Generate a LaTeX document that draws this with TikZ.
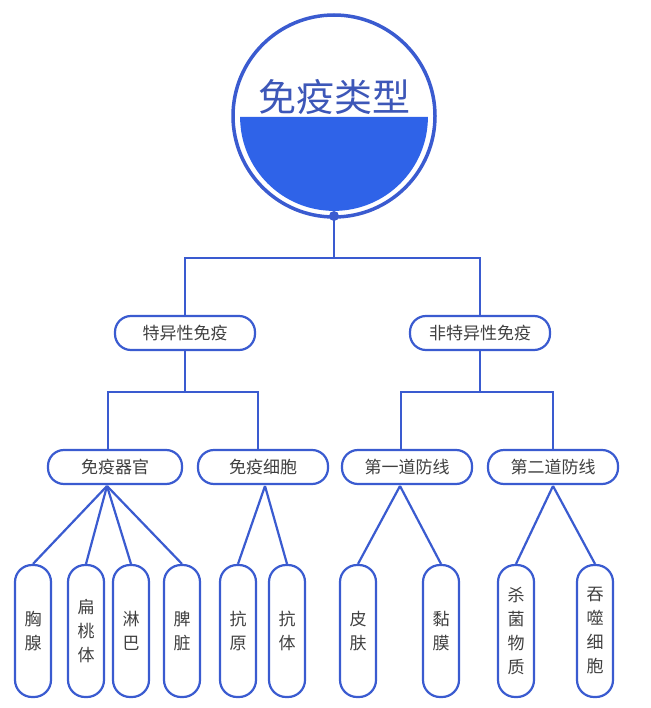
\documentclass[tikz,border=0pt]{standalone}
\usepackage{fontspec}
\setmainfont{Noto Sans CJK SC}
\definecolor{lineblue}{HTML}{3A5BD0}
\definecolor{fillblue}{HTML}{2F63E8}
\definecolor{textblue}{HTML}{3D57B8}
\tikzset{
  pill/.style={draw=lineblue, line width=2.2pt, rounded corners=16pt, minimum height=34pt, font=\fontsize{17}{17}\selectfont, text=black!75},
  leaf/.style={draw=lineblue, line width=2.2pt, rounded corners=17pt, minimum width=36pt, minimum height=132pt, align=center, font=\fontsize{17}{24}\selectfont, text=black!75},
  link/.style={draw=lineblue, line width=2.2pt}
}
\begin{document}
\begin{tikzpicture}[x=1pt, y=-1pt]
  \useasboundingbox (0,0) rectangle (650,708);
  \def\ya{333}
  \def\yb{467}
  \def\yc{631}

  % root circle
  \fill[fillblue] (334,117) ++(-93.9,0) arc[start angle=180, end angle=0, radius=93.9] -- cycle;
  \draw[lineblue, line width=3.5pt] (334,116) circle[radius=101];
  \node[text=textblue, font=\fontsize{38}{38}\selectfont] (root) at (334,97) {免疫类型};
  \fill[lineblue] (334,216) circle[radius=5];
  \coordinate (dot) at (334,216);

  \node[pill, minimum width=140pt] (TY) at (185,\ya) {特异性免疫};
  \node[pill, minimum width=140pt] (FTY) at (480,\ya) {非特异性免疫};

  \node[pill, minimum width=134pt] (QG) at (115,\yb) {免疫器官};
  \node[pill, minimum width=130pt] (XB) at (263,\yb) {免疫细胞};
  \node[pill, minimum width=130pt] (D1) at (407,\yb) {第一道防线};
  \node[pill, minimum width=130pt] (D2) at (553,\yb) {第二道防线};

  \node[leaf] (L1) at (33,\yc) {胸\\腺};
  \node[leaf] (L2) at (86,\yc) {扁\\桃\\体};
  \node[leaf] (L3) at (131,\yc) {淋\\巴};
  \node[leaf] (L4) at (182,\yc) {脾\\脏};
  \node[leaf] (L5) at (238,\yc) {抗\\原};
  \node[leaf] (L6) at (287,\yc) {抗\\体};
  \node[leaf] (L7) at (358,\yc) {皮\\肤};
  \node[leaf] (L8) at (441,\yc) {黏\\膜};
  \node[leaf] (L9) at (516,\yc) {杀\\菌\\物\\质};
  \node[leaf] (L10) at (595,\yc) {吞\\噬\\细\\胞};

  \draw[link] (dot) -- (334,258) -| (TY.north);
  \draw[link] (334,258) -| (FTY.north);
  \draw[link] (TY.south) -- (185,392) -| (108,\yb-17);
  \draw[link] (185,392) -| (258,\yb-17);
  \draw[link] (FTY.south) -- (480,392) -| (401,\yb-17);
  \draw[link] (480,392) -| (553,\yb-17);

  \coordinate (QGb) at (107,486);
  \coordinate (XBb) at (265,486);
  \coordinate (D1b) at (400,486);
  \coordinate (D2b) at (553,486);
  \foreach \n/\p in {L1/QGb, L2/QGb, L3/QGb, L4/QGb, L5/XBb, L6/XBb, L7/D1b, L8/D1b, L9/D2b, L10/D2b}
    \draw[link] (\p) -- (\n.north);
\end{tikzpicture}
\end{document}
